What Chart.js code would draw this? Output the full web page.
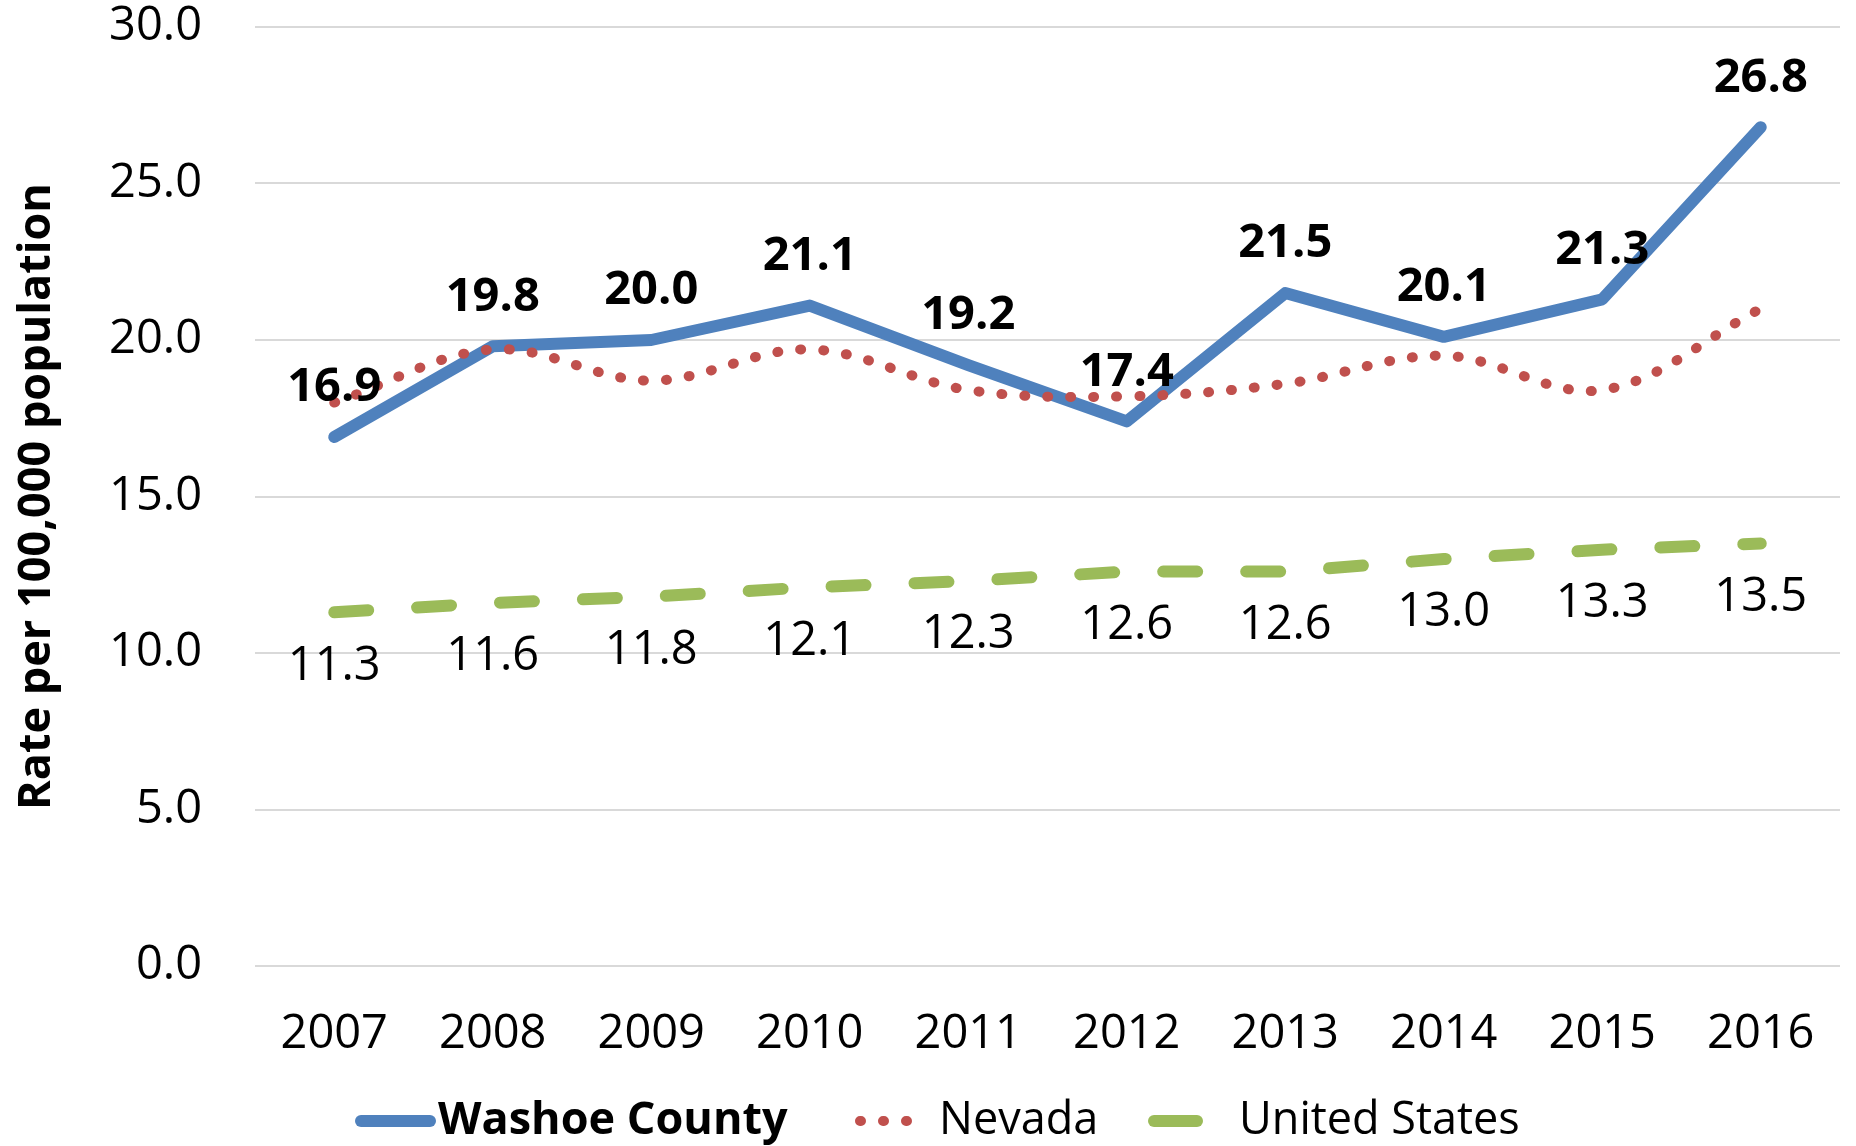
<!DOCTYPE html>
<html>
<head>
<meta charset="utf-8">
<script src="https://cdn.jsdelivr.net/npm/chart.js@4"></script>
<style>
  html, body { margin: 0; padding: 0; background: #fff; }
  #wrap { width: 1856px; height: 1146px; }
</style>
</head>
<body>
<div id="wrap"><canvas id="rateChart" width="1856" height="1146"></canvas></div>
<script>
// values (rate per 100,000)
const years = ['2007', '2008', '2009', '2010', '2011', '2012', '2013', '2014', '2015', '2016'];
const washoeRates = [16.9, 19.8, 20.0, 21.1, 19.2, 17.4, 21.5, 20.1, 21.3, 26.8];
const nevadaRates = [18.0, 19.7, 18.7, 19.7, 18.4, 18.2, 18.6, 19.5, 18.4, 21.0];
const usRates = [11.3, 11.6, 11.8, 12.1, 12.3, 12.6, 12.6, 13.0, 13.3, 13.5];

const FONT = "'Open Sans', 'Noto Sans', sans-serif";

// Draws the value labels next to each point
const valueLabels = {
    id: 'valueLabels',
    afterDatasetsDraw(chart) {
        const ctx = chart.ctx;
        chart.data.datasets.forEach((ds, i) => {
            if (!ds.labelPos) return;
            const meta = chart.getDatasetMeta(i);
            ctx.save();
            ctx.font = ds.labelFont;
            ctx.fillStyle = '#000';
            ctx.textAlign = 'center';
            ctx.textBaseline = 'middle';
            meta.data.forEach((pt, j) => {
                const dy = ds.labelPos === 'above' ? -49 : 54;
                ctx.fillText(ds.data[j].toFixed(1), pt.x, pt.y + dy);
            });
            ctx.restore();
        });
    }
};

// Excel-like legend along the bottom edge
const bottomLegend = {
    id: 'bottomLegend',
    afterDraw(chart, args, opts) {
        const ctx = chart.ctx;
        chart.data.datasets.forEach((ds, i) => {
            const x0 = opts.starts[i];
            const len = opts.sampleLengths[i];
            const w = ds.borderWidth;
            ctx.save();
            ctx.strokeStyle = ds.borderColor;
            ctx.lineWidth = w;
            ctx.lineCap = 'round';
            ctx.setLineDash(opts.dashes[i]);
            ctx.beginPath();
            ctx.moveTo(x0 + w / 2, opts.y);
            ctx.lineTo(x0 + len - w / 2, opts.y);
            ctx.stroke();
            ctx.setLineDash([]);
            ctx.fillStyle = '#000';
            ctx.font = (i === 0 ? 'bold ' : '') + opts.fontSize + 'px ' + FONT;
            ctx.textAlign = 'left';
            ctx.textBaseline = 'middle';
            ctx.fillText(ds.label, opts.textStarts[i], opts.y);
            ctx.restore();
        });
    }
};

new Chart(document.getElementById('rateChart'), {
    type: 'line',
    data: {
        labels: years,
        datasets: [
            {
                label: 'Washoe County',
                data: washoeRates,
                borderColor: '#4F81BD',
                borderWidth: 12,
                borderCapStyle: 'round',
                borderJoinStyle: 'round',
                pointRadius: 0,
                tension: 0,
                order: 3,
                labelPos: 'above',
                labelFont: 'bold 47px ' + FONT
            },
            {
                label: 'Nevada',
                data: nevadaRates,
                borderColor: '#C0504D',
                borderWidth: 10,
                borderDash: [1, 22],
                borderCapStyle: 'round',
                pointRadius: 0,
                tension: 0.35,
                order: 2
            },
            {
                label: 'United States',
                data: usRates,
                borderColor: '#9BBB59',
                borderWidth: 12,
                borderDash: [34, 49],
                borderCapStyle: 'round',
                pointRadius: 0,
                tension: 0,
                order: 1,
                labelPos: 'below',
                labelFont: '47px ' + FONT
            }
        ]
    },
    options: {
        responsive: false,
        devicePixelRatio: 1,
        animation: false,
        layout: { padding: { left: 0, right: 16, top: 27, bottom: 0 } },
        plugins: {
            legend: { display: false },
            tooltip: { enabled: false },
            bottomLegend: {
                starts: [355, 855, 1148],
                sampleLengths: [81, 60, 55],
                dashes: [[], [1, 22], []],
                textStarts: [438, 939, 1239],
                y: 1121,
                fontSize: 45
            }
        },
        scales: {
            x: {
                offset: true,
                grid: { display: false, drawTicks: false },
                border: { display: false },
                ticks: {
                    color: '#000',
                    padding: 40,
                    font: { family: FONT, size: 47 }
                },
                afterFit: (s) => { s.height = 180; s.paddingLeft = 0; s.paddingRight = 0; }
            },
            y: {
                min: 0,
                max: 30,
                grid: { color: '#D9D9D9', lineWidth: 2, drawTicks: false },
                border: { display: false },
                ticks: {
                    stepSize: 5,
                    color: '#000',
                    padding: 53,
                    font: { family: FONT, size: 47, lineHeight: 1 },
                    callback: (v) => v.toFixed(1)
                },
                title: {
                    display: true,
                    text: 'Rate per 100,000 population',
                    color: '#000',
                    padding: { top: 10, bottom: 0 },
                    font: { family: FONT, size: 45, weight: 'bold' }
                },
                afterFit: (s) => { s.width = 255; s.paddingTop = 0; s.paddingBottom = 0; }
            }
        }
    },
    plugins: [valueLabels, bottomLegend]
});
</script>
</body>
</html>
